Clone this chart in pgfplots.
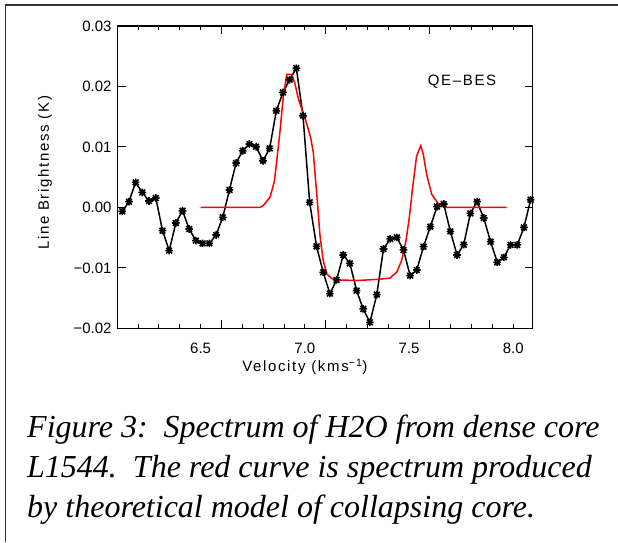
\documentclass[border=0pt]{standalone}
\usepackage{pgfplots}
\pgfplotsset{compat=1.18}
\usepackage{fontspec}
\setmainfont{Liberation Sans}
\newfontfamily\capfont{Liberation Serif}
\newfontfamily\idlfont[LetterSpace=11]{Liberation Sans}

\pgfdeclareplotmark{idlast}{%
  \pgfpathmoveto{\pgfqpoint{-\pgfplotmarksize}{0pt}}\pgfpathlineto{\pgfqpoint{\pgfplotmarksize}{0pt}}%
  \pgfpathmoveto{\pgfqpoint{0pt}{-\pgfplotmarksize}}\pgfpathlineto{\pgfqpoint{0pt}{\pgfplotmarksize}}%
  \pgfpathmoveto{\pgfqpoint{-.75\pgfplotmarksize}{-.75\pgfplotmarksize}}\pgfpathlineto{\pgfqpoint{.75\pgfplotmarksize}{.75\pgfplotmarksize}}%
  \pgfpathmoveto{\pgfqpoint{-.75\pgfplotmarksize}{.75\pgfplotmarksize}}\pgfpathlineto{\pgfqpoint{.75\pgfplotmarksize}{-.75\pgfplotmarksize}}%
  \pgfusepathqstroke}

\begin{document}
\begin{tikzpicture}
\useasboundingbox (0,0) rectangle (618pt,542pt);
\fill[white] (0,0) rectangle (618pt,542pt);
\draw[line width=1.3pt, black!80] (5.5pt,0pt) -- (5.5pt,537pt) -- (618pt,537pt);

\begin{axis}[
  at={(117.7pt,213.7pt)}, anchor=south west,
  scale only axis, width=415pt, height=302.3pt,
  xmin=6.102, xmax=8.093, ymin=-0.02, ymax=0.03,
  scaled y ticks=false, scaled x ticks=false,
  axis line style={line width=1.2pt, black},
  every tick/.style={black, line width=1pt},
  tick align=inside,
  xtick pos=both, ytick pos=both,
  major tick length=8pt, minor tick length=4pt,
  xtick={6.6,7.1,7.6}, xticklabels={},
  minor xtick={6.2,6.3,6.4,6.5,6.7,6.8,6.9,7.0,7.2,7.3,7.4,7.5,7.7,7.8,7.9,8.0},
  extra x ticks={6.5,7.0,7.5,8.0},
  extra x tick labels={6.5,7.0,7.5,8.0},
  extra x tick style={major tick length=0pt},
  ytick={-0.02,-0.01,0,0.01,0.02,0.03},
  yticklabels={−0.02,−0.01,0.00,0.01,0.02,0.03},
  tick label style={font=\fontsize{15}{18}\selectfont},
  xticklabel style={anchor=center, yshift=-19.7pt},
  yticklabel style={xshift=-2.7pt},
  xlabel={Velocity (kms\textsuperscript{−1})},
  ylabel={Line Brightness (K)},
  xlabel style={at={(axis description cs:0.451,-0.128)}, anchor=center, font=\idlfont\fontsize{15}{18}\selectfont},
  ylabel style={at={(axis description cs:-0.1752,0.514)}, anchor=center, rotate=0, font=\idlfont\fontsize{15}{18}\selectfont},
  clip=false,
]
\addplot[black, line width=1.5pt, mark=idlast, mark size=3.8pt, mark options={line width=1.6pt}] coordinates {
(6.124,-0.00066) (6.156,0.00094) (6.188,0.00413) (6.220,0.00248) (6.252,0.00106)
(6.285,0.00155) (6.317,-0.00385) (6.349,-0.00716) (6.381,-0.00258) (6.413,-0.00055)
(6.445,-0.00357) (6.477,-0.00550) (6.509,-0.00595) (6.542,-0.00595) (6.574,-0.00456)
(6.606,-0.00165) (6.638,0.00288) (6.670,0.00734) (6.702,0.00937) (6.734,0.01048)
(6.766,0.01003) (6.799,0.00772) (6.831,0.00975) (6.863,0.01598) (6.895,0.01901)
(6.927,0.02111) (6.959,0.02304) (6.991,0.01516) (7.023,0.00083) (7.056,-0.00645)
(7.088,-0.01074) (7.120,-0.01426) (7.152,-0.01200) (7.184,-0.00787) (7.216,-0.00926)
(7.248,-0.01377) (7.280,-0.01679) (7.312,-0.01901) (7.345,-0.01443) (7.377,-0.00688)
(7.409,-0.00522) (7.441,-0.00496) (7.473,-0.00704) (7.505,-0.01129) (7.537,-0.01035)
(7.569,-0.00650) (7.602,-0.00319) (7.634,0.00012) (7.666,0.00056) (7.698,-0.00397)
(7.730,-0.00787) (7.762,-0.00617) (7.794,-0.00099) (7.826,0.00094) (7.858,-0.00175)
(7.891,-0.00567) (7.923,-0.00909) (7.955,-0.00826) (7.987,-0.00621) (8.019,-0.00621)
(8.051,-0.00331) (8.083,0.00127)
};
\addplot[red, line width=1.5pt, no marks] coordinates {
(6.500,0) (6.785,0) (6.800,0.0003) (6.833,0.0017) (6.853,0.0042) (6.865,0.0077)
(6.881,0.0127) (6.896,0.0182) (6.913,0.0220) (6.937,0.0220) (6.952,0.0205)
(6.970,0.0178) (6.990,0.0158) (7.010,0.0137) (7.028,0.0115) (7.040,0.0092)
(7.050,0.0050) (7.060,0.0010) (7.072,-0.0045) (7.088,-0.0088) (7.105,-0.0110)
(7.130,-0.0118) (7.160,-0.0120) (7.250,-0.0121) (7.350,-0.0119) (7.408,-0.0117)
(7.441,-0.0107) (7.464,-0.0088) (7.485,-0.0055) (7.501,-0.0017) (7.517,0.0033)
(7.536,0.0085) (7.556,0.0102) (7.568,0.0088) (7.584,0.0055) (7.608,0.0022)
(7.640,0.0006) (7.680,0) (7.968,0)
};
\node[font=\idlfont\fontsize{15}{18}\selectfont, anchor=center] at (axis cs:7.754,0.0208) {QE–BES};
\end{axis}

\begin{scope}[every node/.style={anchor=base west, inner sep=0pt, font=\capfont\itshape\fontsize{32}{38}\selectfont}]
\node at (27pt,105pt) {Figure 3:\ \ Spectrum of H2O from dense core};
\node at (27pt,65pt) {L1544.\ \ The red curve is spectrum produced};
\node at (27pt,25pt) {by theoretical model of collapsing core.};
\end{scope}
\end{tikzpicture}
\end{document}
